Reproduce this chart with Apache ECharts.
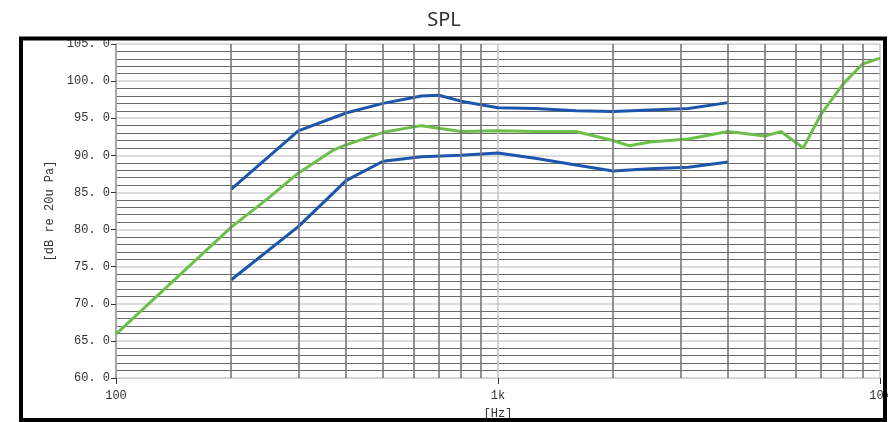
<!DOCTYPE html>
<html>
<head>
<meta charset="utf-8">
<script src="https://cdn.jsdelivr.net/npm/echarts@6/dist/echarts.min.js"></script>
<style>html,body{margin:0;padding:0;background:#fff}#c{width:888px;height:422px}</style>
</head>
<body>
<div id="c"></div>
<script>
const greenFreq = [100, 200, 250, 300, 370, 400, 500, 630, 800, 1000, 1250, 1600, 2000, 2200, 2500, 3150, 4000, 5000, 5500, 6300, 7000, 8000, 9000, 10000];
const greenVal  = [65.9, 80.3, 84.2, 87.6, 90.7, 91.4, 93.1, 94.0, 93.2, 93.3, 93.2, 93.2, 92.0, 91.3, 91.8, 92.2, 93.2, 92.6, 93.2, 91.0, 95.5, 99.6, 102.3, 103.1];
const upperFreq = [200, 300, 400, 500, 630, 700, 800, 1000, 1250, 1600, 2000, 2500, 3150, 4000];
const upperVal  = [85.4, 93.3, 95.7, 97.0, 98.0, 98.1, 97.3, 96.4, 96.3, 96.0, 95.9, 96.1, 96.3, 97.1];
const lowerFreq = [200, 300, 360, 400, 500, 630, 800, 1000, 1250, 1600, 2000, 2500, 3150, 4000];
const lowerVal  = [73.2, 80.4, 84.3, 86.6, 89.2, 89.8, 90.0, 90.3, 89.6, 88.7, 87.9, 88.2, 88.4, 89.1];
const minorFreqLines = [200, 300, 400, 500, 600, 700, 800, 900, 2000, 3000, 4000, 5000, 6000, 7000, 8000, 9000];
const xTickLabels = {100: '100', 1000: '1k', 10000: '10k'};

const pairs = (xs, ys) => xs.map((x, i) => [x, ys[i]]);
const chart = echarts.init(document.getElementById('c'));
const monoFont = 'Liberation Mono';
chart.setOption({
  animation: false,
  backgroundColor: '#fff',
  title: {
    text: 'SPL', left: 'center', top: 5,
    textStyle: {fontSize: 20, fontWeight: 'normal', fontFamily: 'Noto Sans', color: '#333'}
  },
  grid: {left: 116, right: 8, top: 44, bottom: 44, containLabel: false, outerBoundsMode: 'none'},
  xAxis: {
    type: 'log', logBase: 10, min: 100, max: 10000,
    name: '[Hz]', nameLocation: 'middle', nameGap: 30,
    nameTextStyle: {fontFamily: monoFont, fontSize: 12, color: '#333'},
    axisLine: {show: true, lineStyle: {color: '#cfcfcf', width: 1}},
    axisTick: {show: true, length: 6, lineStyle: {color: '#333'}},
    axisLabel: {
      fontFamily: monoFont, fontSize: 12, color: '#333', margin: 12,
      formatter: v => xTickLabels[Math.round(v)] || ''
    },
    splitLine: {show: true, lineStyle: {color: '#c4c4c4', width: 1.5}}
  },
  yAxis: {
    type: 'value', min: 60, max: 105, interval: 5,
    name: '[dB re 20u Pa]', nameLocation: 'middle', nameGap: 58, nameRotate: 90,
    nameTextStyle: {fontFamily: monoFont, fontSize: 12, color: '#333'},
    axisLine: {show: true, lineStyle: {color: '#999', width: 1.5}},
    axisTick: {show: true, length: 5, lineStyle: {color: '#333'}},
    axisLabel: {
      fontFamily: monoFont, fontSize: 12, color: '#333', margin: 6,
      formatter: v => v.toFixed(1).replace('.', '. ')
    },
    splitLine: {show: true, lineStyle: {color: '#cfcfcf', width: 1.5}},
    minorTick: {show: false, splitNumber: 5},
    minorSplitLine: {show: true, lineStyle: {color: '#6a6a6a', width: 1.2}}
  },
  series: [
    {
      type: 'line', data: [], silent: true, z: 1,
      markLine: {
        silent: true, symbol: 'none', label: {show: false},
        lineStyle: {type: 'solid', color: '#777', width: 1.6},
        data: minorFreqLines.map(f => ({xAxis: f}))
      }
    },
    {type: 'line', data: pairs(upperFreq, upperVal), showSymbol: false, z: 3,
     lineStyle: {color: '#1c56ac', width: 3}},
    {type: 'line', data: pairs(lowerFreq, lowerVal), showSymbol: false, z: 3,
     lineStyle: {color: '#1c56ac', width: 3}},
    {type: 'line', data: pairs(greenFreq, greenVal), showSymbol: false, z: 4,
     lineStyle: {color: '#6cc04a', width: 3}}
  ],
  graphic: [{
    type: 'rect', z: 100, silent: true,
    shape: {x: 21, y: 38.5, width: 864, height: 381.5},
    style: {fill: 'none', stroke: '#000', lineWidth: 4}
  }]
});
</script>
</body>
</html>
